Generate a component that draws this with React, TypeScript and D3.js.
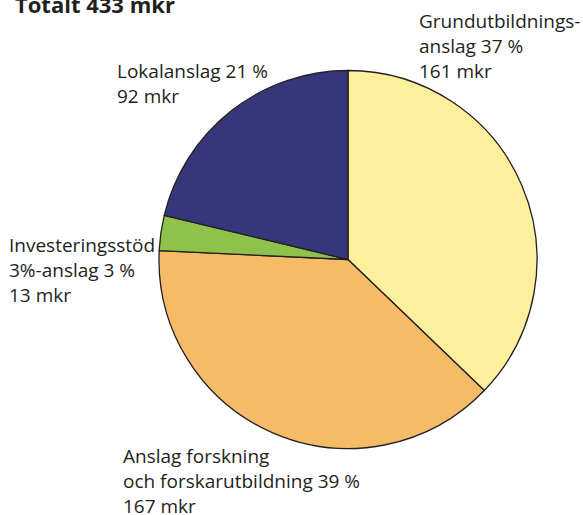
import React from "react";
import * as d3 from "d3";

// budget split, mkr
const categories = [
  "Grundutbildningsanslag",
  "Anslag forskning och forskarutbildning",
  "Investeringsstöd 3%-anslag",
  "Lokalanslag",
];
const values = [161, 167, 13, 92];
const percents = [37, 39, 3, 21];
const colors = ["#fdef9b", "#f6bb67", "#8fc24a", "#36367a"];

// label lines per slice (same order as categories)
const labelLines = [
  ["Grundutbildnings-", `anslag ${percents[0]} %`, `${values[0]} mkr`],
  ["Anslag forskning", `och forskarutbildning ${percents[1]} %`, `${values[1]} mkr`],
  ["Investeringsstöd", `3%-anslag ${percents[2]} %`, `${values[2]} mkr`],
  [`Lokalanslag ${percents[3]} %`, `${values[3]} mkr`],
];
const labelPos = [
  [419, 28],
  [123, 463],
  [9, 252],
  [117, 78],
];

const title = `Totalt ${d3.sum(values)} mkr`;

const App = () => {
  const width = 583;
  const height = 515;
  const cx = 348;
  const cy = 259.5;
  const radius = 189;

  const pie = d3
    .pie<number>()
    .sort(null)
    .value((d) => d);
  const arc = d3.arc<d3.PieArcDatum<number>>().innerRadius(0).outerRadius(radius);
  const arcs = pie(values);

  const font = "'Open Sans', sans-serif";

  return (
    <svg
      width={width}
      height={height}
      style={{ position: "absolute", left: 0, top: 0, background: "#fff" }}
    >
      <text x={15} y={13} fontFamily={font} fontWeight="bold" fontSize={22} fill="#231f20">
        {title}
      </text>
      <g transform={`translate(${cx},${cy})`}>
        {arcs.map((a, i) => (
          <path
            key={categories[i]}
            d={arc(a) || ""}
            fill={colors[i]}
            stroke="#231f20"
            strokeWidth={1.3}
            strokeLinejoin="round"
          />
        ))}
      </g>
      {labelLines.map((lines, i) => (
        <text
          key={i}
          x={labelPos[i][0]}
          y={labelPos[i][1]}
          fontFamily={font}
          fontSize={19}
          fill="#231f20"
        >
          {lines.map((l, j) => (
            <tspan key={j} x={labelPos[i][0]} dy={j === 0 ? 0 : 25}>
              {l}
            </tspan>
          ))}
        </text>
      ))}
    </svg>
  );
};

export default App;
